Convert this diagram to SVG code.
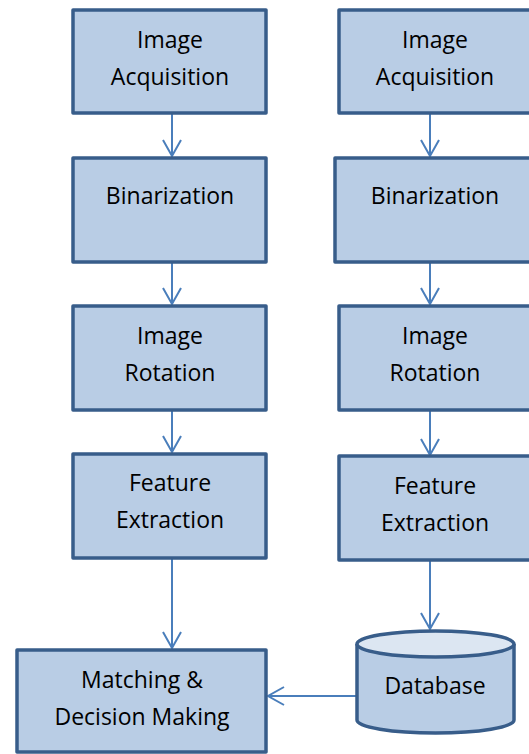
<svg xmlns="http://www.w3.org/2000/svg" width="529" height="754" viewBox="0 0 529 754">
<style>
.box{fill:#b9cde5;stroke:#385d8a;stroke-width:3.5;stroke-linejoin:round}
.t{font-family:"Open Sans","Liberation Sans",sans-serif;font-size:23px;fill:#000;text-anchor:middle}
.c{fill:none;stroke:#4a7ebb;stroke-width:2}
</style>
<defs>
<marker id="ah" viewBox="0 0 20 20" refX="17" refY="10" markerWidth="20" markerHeight="20" markerUnits="userSpaceOnUse" orient="auto">
<path d="M1,1 L17,10 L1,19" fill="none" stroke="#4a7ebb" stroke-width="2"/>
</marker>
</defs>
<rect width="529" height="754" fill="#fff"/>
<g id="connectors">
<line class="c" x1="172" y1="114" x2="172" y2="156" marker-end="url(#ah)"/>
<line class="c" x1="172" y1="263" x2="172" y2="304" marker-end="url(#ah)"/>
<line class="c" x1="172" y1="411" x2="172" y2="452" marker-end="url(#ah)"/>
<line class="c" x1="172" y1="559" x2="172" y2="648" marker-end="url(#ah)"/>
<line class="c" x1="430" y1="114" x2="430" y2="156" marker-end="url(#ah)"/>
<line class="c" x1="430" y1="263" x2="430" y2="304" marker-end="url(#ah)"/>
<line class="c" x1="430" y1="411" x2="430" y2="455" marker-end="url(#ah)"/>
<line class="c" x1="430" y1="561" x2="430" y2="629" marker-end="url(#ah)"/>
<line class="c" x1="357" y1="696" x2="268" y2="696" marker-end="url(#ah)"/>
</g>
<g id="l1"><rect class="box" x="73" y="10" width="193" height="103"/><text class="t" x="170" y="48">Image</text><text class="t" x="170" y="85">Acquisition</text></g>
<g id="l2"><rect class="box" x="73" y="158" width="193" height="104"/><text class="t" x="170" y="204">Binarization</text></g>
<g id="l3"><rect class="box" x="73" y="306" width="193" height="104"/><text class="t" x="170" y="344">Image</text><text class="t" x="170" y="381">Rotation</text></g>
<g id="l4"><rect class="box" x="73" y="454" width="193" height="104"/><text class="t" x="170" y="491">Feature</text><text class="t" x="170" y="528">Extraction</text></g>
<g id="m"><rect class="box" x="17" y="650" width="249" height="102"/><text class="t" x="142" y="688">Matching &amp;</text><text class="t" x="142" y="725">Decision Making</text></g>
<g id="r1"><rect class="box" x="339" y="10" width="193" height="103"/><text class="t" x="435" y="48">Image</text><text class="t" x="435" y="85">Acquisition</text></g>
<g id="r2"><rect class="box" x="335" y="158" width="197" height="104"/><text class="t" x="435" y="204">Binarization</text></g>
<g id="r3"><rect class="box" x="339" y="306" width="193" height="104"/><text class="t" x="435" y="344">Image</text><text class="t" x="435" y="381">Rotation</text></g>
<g id="r4"><rect class="box" x="339" y="456" width="193" height="104"/><text class="t" x="435" y="494">Feature</text><text class="t" x="435" y="531">Extraction</text></g>
<g id="db">
<path d="M357,644 L357,720 A78.5,13 0 0 0 514,720 L514,644" fill="#b9cde5" stroke="#385d8a" stroke-width="3.5"/>
<ellipse cx="435.5" cy="644" rx="78.5" ry="13" fill="#dce6f2" stroke="#385d8a" stroke-width="3.5"/>
<text class="t" x="435" y="694">Database</text>
</g>
</svg>
